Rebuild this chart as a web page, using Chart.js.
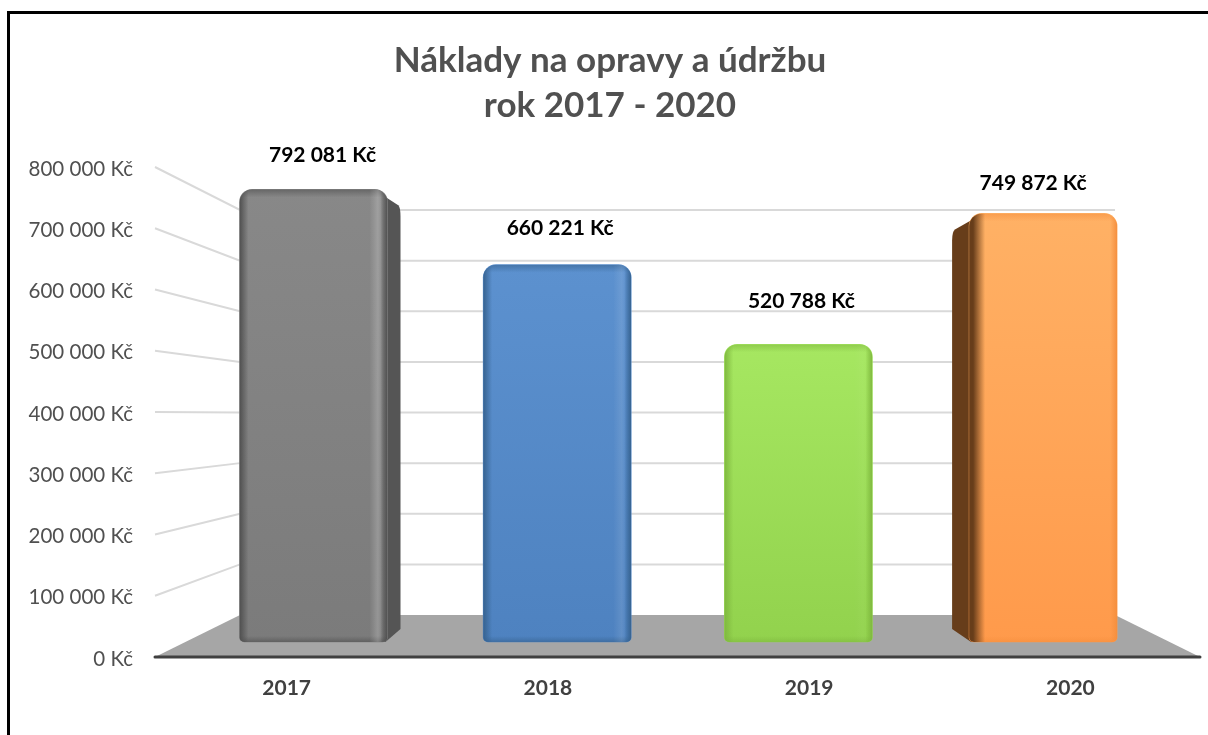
<!DOCTYPE html>
<html>
<head>
<meta charset="utf-8">
<title>Náklady na opravy a údržbu</title>
<script src="https://cdn.jsdelivr.net/npm/chart.js@4"></script>
<style>
  html, body { margin: 0; padding: 0; background: #fff; overflow: hidden; }
  #chartBox {
    position: absolute; left: 7px; top: 11px; width: 1201px; height: 724px;
    border-left: 3px solid #000; border-top: 3px solid #000; box-sizing: border-box;
    padding-left: 2px;
  }
  canvas { display: block; }
</style>
</head>
<body>
<div id="chartBox"><canvas id="myChart" width="1196" height="721"></canvas></div>
<script>
// ------>chart values<--
const categories = ["2017", "2018", "2019", "2020"];
const costs = [792081, 660221, 520788, 749872];
const costLabels = ["792 081 Kč", "660 221 Kč", "520 788 Kč", "749 872 Kč"];
const tickLabels = ["0 Kč", "100 000 Kč", "200 000 Kč", "300 000 Kč", "400 000 Kč",
    "500 000 Kč", "600 000 Kč", "700 000 Kč", "800 000 Kč"];

// ------>bar look<--
const topColors = ["#888888", "#5c91cf", "#a6e761", "#ffb165"];
const bottomColors = ["#7b7b7b", "#4e82c0", "#92d24d", "#ff9a4b"];
const edgeColors = ["#4f4f4f", "#36628f", "#7fb83f", "#f58f3e"];
const sideColors = ["#555555", null, null, "#673d1a"];
const glossAlpha = [0.2, 0.1, 0.03, 0];
const sideDepth = [15, 0, 0, -19];
const perspectiveShift = [0, 0, -2.5, -1.5];
const labelShift = [[9, -34], [3, -36], [3, -43], [-10, -30]];

const FONT = "Lato, Carlito, sans-serif";

// px per 100 000 on each depth plane of the fake 3D box
const barStep = 57.15, backStep = 50.625;
const areaHeight = 490;

function planeRange(step, zeroAboveBottom) {
    return {
        min: -zeroAboveBottom / step * 100000,
        max: (areaHeight - zeroAboveBottom) / step * 100000
    };
}

// ------>floor, grid and the side faces, under the bars<--
const boxPlugin = {
    id: "box",
    afterDatasetsUpdate(chart) {
        chart.getDatasetMeta(0).data.forEach((bar, i) => { bar.x += perspectiveShift[i]; });
    },
    beforeDatasetsDraw(chart) {
        const { ctx, chartArea: area, scales } = chart;
        const backLeft = area.left + 85, backRight = area.right - 85;
        const back0 = scales.yBack.getPixelForValue(0);

        ctx.save();
        // floor
        ctx.fillStyle = "#a6a6a6";
        ctx.beginPath();
        ctx.moveTo(area.left, area.bottom);
        ctx.lineTo(backLeft, back0);
        ctx.lineTo(backRight, back0);
        ctx.lineTo(area.right, area.bottom);
        ctx.closePath();
        ctx.fill();

        // grid on the back wall and left wall
        ctx.strokeStyle = "#d9d9d9";
        ctx.lineWidth = 2;
        scales.y.ticks.forEach(tick => {
            if (tick.value === 0) return;
            const yFront = scales.y.getPixelForValue(tick.value);
            const yBack = scales.yBack.getPixelForValue(tick.value);
            ctx.beginPath();
            ctx.moveTo(area.left, yFront);
            ctx.lineTo(backLeft, yBack);
            ctx.lineTo(backRight, yBack);
            ctx.stroke();
        });

        // axis line
        ctx.strokeStyle = "#404040";
        ctx.lineWidth = 3;
        ctx.lineCap = "round";
        ctx.beginPath();
        ctx.moveTo(area.left, area.bottom);
        ctx.lineTo(area.right, area.bottom);
        ctx.stroke();

        // side faces of the outer bars
        chart.getDatasetMeta(0).data.forEach((bar, i) => {
            const depth = sideDepth[i];
            if (!depth) return;
            const dir = Math.sign(depth);
            const edge = bar.x + dir * (bar.width / 2 - 2);
            const far = edge + depth;
            ctx.fillStyle = sideColors[i];
            ctx.beginPath();
            ctx.moveTo(edge - dir * 12, bar.y);
            ctx.lineTo(edge + depth * 0.85, bar.y + 16);
            ctx.quadraticCurveTo(far, bar.y + 18, far, bar.y + 27);
            ctx.lineTo(far, bar.base - 13);
            ctx.lineTo(edge, bar.base);
            ctx.lineTo(edge - dir * 12, bar.base);
            ctx.closePath();
            ctx.fill();
        });
        ctx.restore();
    },
    // ------>soft bevel on every bar, then the value labels<--
    afterDatasetsDraw(chart) {
        const ctx = chart.ctx;
        chart.getDatasetMeta(0).data.forEach((bar, i) => {
            const left = bar.x - bar.width / 2, right = bar.x + bar.width / 2;
            const leftColor = sideDepth[i] < 0 ? sideColors[i] : edgeColors[i];
            const leftWidth = sideDepth[i] < 0 ? 16 : 9;
            ctx.save();
            ctx.beginPath();
            ctx.roundRect(left, bar.y, bar.width, bar.base - bar.y, [13, 13, 5, 5]);
            ctx.clip();

            let g = ctx.createLinearGradient(0, bar.y, 0, bar.y + 8);
            g.addColorStop(0, edgeColors[i] + "99");
            g.addColorStop(1, edgeColors[i] + "00");
            ctx.fillStyle = g;
            ctx.fillRect(left, bar.y, bar.width, 8);

            g = ctx.createLinearGradient(0, bar.base - 6, 0, bar.base);
            g.addColorStop(0, edgeColors[i] + "00");
            g.addColorStop(1, edgeColors[i] + "99");
            ctx.fillStyle = g;
            ctx.fillRect(left, bar.base - 6, bar.width, 6);

            g = ctx.createLinearGradient(left, 0, left + leftWidth, 0);
            g.addColorStop(0, leftColor);
            if (sideDepth[i] < 0) g.addColorStop(0.25, leftColor);
            g.addColorStop(1, leftColor + "00");
            ctx.fillStyle = g;
            ctx.fillRect(left, bar.y, leftWidth, bar.base - bar.y);

            // light strip near the right edge, then the darker rim
            g = ctx.createLinearGradient(right - 18, 0, right - 4, 0);
            g.addColorStop(0, "rgba(255,255,255,0)");
            g.addColorStop(0.6, `rgba(255,255,255,${glossAlpha[i]})`);
            g.addColorStop(1, "rgba(255,255,255,0)");
            ctx.fillStyle = g;
            ctx.fillRect(right - 18, bar.y, 14, bar.base - bar.y);

            g = ctx.createLinearGradient(right - 7, 0, right, 0);
            g.addColorStop(0, edgeColors[i] + "00");
            g.addColorStop(1, edgeColors[i]);
            ctx.fillStyle = g;
            ctx.fillRect(right - 7, bar.y, 7, bar.base - bar.y);
            ctx.restore();

            ctx.save();
            ctx.fillStyle = "#000";
            ctx.font = "bold 21px " + FONT;
            ctx.textAlign = "center";
            ctx.textBaseline = "middle";
            ctx.fillText(costLabels[i], bar.x + labelShift[i][0], bar.y + labelShift[i][1]);
            ctx.restore();
        });
    }
};

// ------>chart creation<--
const ctx = document.getElementById("myChart").getContext("2d");
new Chart(ctx, {
    type: "bar",
    data: {
        labels: categories,
        datasets: [{
            data: costs.map((v, i) => ({ x: i, y: v })),
            xAxisID: "xBars",
            yAxisID: "yBars",
            barThickness: 148,
            borderRadius: { topLeft: 13, topRight: 13, bottomLeft: 5, bottomRight: 5 },
            borderSkipped: false,
            backgroundColor(c) {
                if (!c.chart.chartArea || c.dataIndex === undefined) return topColors[0];
                const bar = c.chart.scales.yBars;
                const g = c.chart.ctx.createLinearGradient(0, bar.getPixelForValue(costs[c.dataIndex]), 0, bar.getPixelForValue(0));
                g.addColorStop(0, topColors[c.dataIndex]);
                g.addColorStop(1, bottomColors[c.dataIndex]);
                return g;
            }
        }]
    },
    options: {
        responsive: false,
        animation: false,
        layout: { padding: { left: 8, right: 8 } },
        plugins: {
            legend: { display: false },
            tooltip: { enabled: false },
            title: {
                display: true,
                text: ["Náklady na opravy a údržbu", "rok 2017 - 2020"],
                color: "#505050",
                font: { family: FONT, size: 35, weight: "bold", lineHeight: "45px" },
                padding: { top: 24, bottom: 39 }
            }
        },
        scales: {
            x: {
                offset: true,
                grid: { display: false, drawTicks: false },
                border: { display: false },
                ticks: { color: "#404040", padding: 19, labelOffset: 1, font: { family: FONT, size: 21, weight: "bold" } },
                afterFit(scale) { scale.height = 78; }
            },
            xBars: {
                type: "linear", display: false, offset: false,
                min: -158.5 / 243.7, max: (1045 - 158.5) / 243.7
            },
            y: {
                min: 0, max: 800000,
                grid: { display: false, drawTicks: false },
                border: { display: false },
                ticks: {
                    stepSize: 100000,
                    padding: 22,
                    labelOffset: 2,
                    color: "#505050",
                    font: { family: FONT, size: 20.5 },
                    callback: (v, i) => tickLabels[i]
                },
                afterFit(scale) { scale.width = 135; }
            },
            yBack: Object.assign({ display: false }, planeRange(backStep, 42)),
            yBars: Object.assign({ display: false }, planeRange(barStep, 15))
        }
    },
    plugins: [boxPlugin]
});
</script>
</body>
</html>
